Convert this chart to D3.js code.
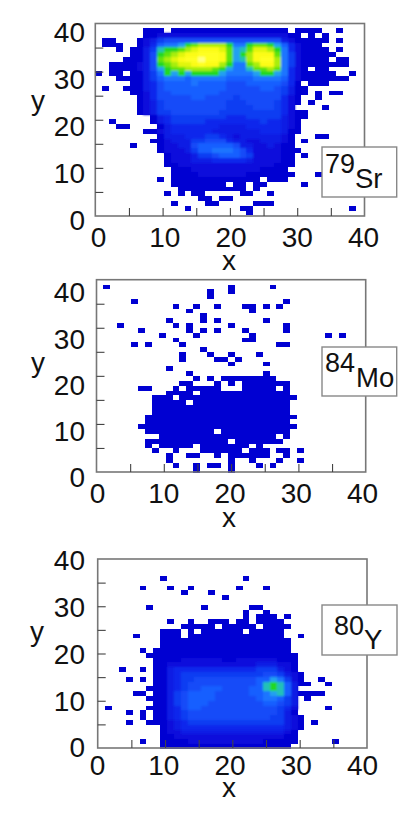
<!DOCTYPE html>
<html>
<head>
<meta charset="utf-8">
<script src="https://cdn.jsdelivr.net/npm/d3@7"></script>
<style>html,body{margin:0;padding:0;background:#fff}svg{display:block}text{font-family:"Liberation Sans",Arial,sans-serif;fill:#111}</style>
</head>
<body>
<div id="chart"></div>
<script>
// Counts per 1x1 bin (top row y=39..40 first). Base-36 colour level; '.' = empty. '|' every 10 columns.
const sr79Bins = [
"",
".......111|.111111111|11111111.1|111..1....",
".......112|2222222222|2222222211|.1.1......",
".11...1235|6666666666|6666666321|1111.1....",
".111..1247|889cdeeeec|88cddc9742|111.......",
"...1.1135a|ccdefgggfd|9adffec842|1111.1....",
".....1136c|defgghhhgd|9cegggd852|11111.....",
"....11136d|efghhihhgd|9aeghhe852|1111.11...",
"..1111236c|deffghggec|88degge852|1111111...",
"..11112369|cddeeeedc9|88added842|1.11......",
"1.11.11358|c9c9cccc98|8889cc9842|11111..1..",
"...1111357|8887888887|7778888742|1111111...",
".....11346|7777877776|6677777641|.111......",
".1..111346|7777777776|6666776531|1.........",
".....11246|6777777766|6666666531|1.1.11....",
"......1246|6666776666|5666666421|..1.......",
"......1235|6666666665|5566665421|.1........",
"......1235|6666666665|555666542.|...1......",
"......1235|5666666655|5555555421|1.........",
"........13|4555555554|4455555321|1.........",
"..1.....13|4555554444|4444544321",
"...11....1|3444444433|3344444321",
".......112|3444444333|3333444311",
".........1|3334445543|233333321.|..11......",
"........11|2333556664|332233321.|1.........",
".....1...1|2233677777|633223211.",
".........1|2223577888|7642222111",
"..........|1222355677|765222211.|1.........",
"..........|1222333444|443222211.",
"..........|1122222222|222222111.",
"..........|.111222222|22221111..",
"..........|.111122222|221111111.|..1.......",
".........1|.111111111|1111.111..",
"..........|.11111111.|11.11.....|1.........",
"..........|..11111111|11.1......",
"..........|1.1.11....|.11..1....",
"..........|.....11.11",
"..........|.1....11..|...111....",
"..........|...1......|.11.......|.......1..",
"..........|..........|..1......."
];
const mo84Bins = [
"",
".1........|.........1|.....1....",
"..........|......1..1",
"..........|......1...",
".....1....|..........|.......1..",
"..........|.1..1..1..|.11.1.1...",
"..........|...1......|..1.......",
"..........|.....1....",
"..........|1....1.1..|....1.....",
"...1......|.1.1.....1|.......1..",
"......1...|...1.1.1..|.1.....1..",
".........1|....1.....|..1.......|...1.1....",
"..........|.1........|.11.......",
".....1.1..|..1.......|......11..",
"..........|.....1....",
"..........|..1...1..1|...1......",
"..........|..1....11.|1.........",
"..........|.........1|....1.....",
"..........|1.........",
"..........|...1......|....1.....",
"..........|....1.1.11|111111....",
"..........|..11...1.1|.1111111..",
"......11..|.1.11111..|.11111.1..",
"..........|1111.11111|11111111..",
"........11|1.11111111|111111111.",
"........11|111.111111|11111111..",
"........11|1111111111|11111111..",
"........11|1111111111|11111111..",
".......111|1111111111|111111111.",
".......111|1111111111|11111111..",
"......1111|1111111111|111111111.",
".......111|1111111.11|11111111..",
".........1|1111111111|111111.1..",
".......111|111111111.|1111111...",
".......1.1|1111.11111|11.1......",
"........1.|.1...11111|1.111.11.1",
"..........|1..11..1.1|11111..1..",
"..........|1........1|..1...1..1",
"..........|.1..1.11.1|...1.1....",
"..........|....1....1"
];
const y80Bins = [
"","","","",
".........1|..........|.1........",
"",
"......1...|1..1......|1...1.....",
"..........|..1...1...",
"..........|........1.",
"",
".......1..|.....1....|..11......",
"..........|..........|.1..1.....",
"..........|..........|.1.111.1..",
"..........|1..1..111.|11.1111...",
"..........|..11111.11|111.1111..",
".........1|11.1.11111|1.11111...",
".....1...1|11.1111111|1111111..1",
".........1|1111111111|11111111..",
".........1|1111111111|11111111..",
"......1.11|1111111111|11111111..",
".......111|1111111111|111111111.",
"........11|1122222211|222222111.",
"........11|2222222222|222333221.",
"...1..1.11|3444444444|444555321.",
"........11|3455555555|5555665321",
"....1.1.11|3455666666|6667798521|..1.......",
"........11|3456666666|6667aca731|1..1......",
".......111|3456677766|6677aca73.",
".....11.11|3567777666|667789a731|111.......",
".......111|3567777666|666788753.|1.........",
"........11|3567776666|666677653.",
".1.....111|3467766666|666666542.|...1......",
"....1.1.11|3456666666|666666531.",
"......1.11|3456666666|6666655321",
"....1..111|2345555555|5555555321|.1........",
".........1|2344444444|4444444321",
".........1|2233333333|333333321.",
".........1|1222222222|222222211.",
"......1..1|1112222222|222211111.|....1.....",
".........1|1111111111|11111111.."
];
const colourLevels = [1,2,3,4,5,6,7,8,9,10,11,12,13,14,15,16,17,18];
const colourStops = ["#0606d2","#0810dc","#0a1ae4","#0a28ec","#0e3cf2","#124cf8","#185eff","#1c74ff","#20a0f0","#20c0b8","#20d070","#20d820","#60e410","#a8ee10","#e0f610","#fcfc18","#ffff20","#ffff80"];
const axisTicks = [5,10,15,20,25,30,35];
const axisLabels = [0,10,20,30,40];
const isotopeMass = ["79","84","80"];
const isotopeName = ["Sr","Mo","Y"];

const layout = [
 {bins:sr79Bins,l:95.3,r:364.5,t:23.5,b:216,cx:95.3,cw:6.87,cy:23.3,ch:4.8,
  xlab:[98,363],xlabY:227,ylab:[221,33],xt:[229,270],yt:[38,110],
  box:[322,147,396.7,197],massAt:[325,173],nameAt:[355,188]},
 {bins:mo84Bins,l:96.5,r:365.7,t:279.7,b:472,cx:96.3,cw:6.93,cy:279.7,ch:4.82,
  xlab:[97,362],xlabY:483,ylab:[478,293],xt:[229,527],yt:[38,372],
  box:[322,347,396.7,396],massAt:[325,372],nameAt:[356,387]},
 {bins:y80Bins,l:97.7,r:367,t:559,b:748,cx:98.3,cw:6.87,cy:556.8,ch:4.8,
  xlab:[97,362],xlabY:755,ylab:[748,561],xt:[229,797],yt:[37,641],
  box:[322,605,397,655],massAt:[334,635],nameAt:[364,649]}
];

const svg = d3.select("#chart").append("svg").attr("width",415).attr("height",830);
const defs = svg.append("defs");
function blurFilter(id,sd){
  defs.append("filter").attr("id",id).attr("x","-5%").attr("y","-5%").attr("width","110%").attr("height","110%")
    .append("feGaussianBlur").attr("stdDeviation",sd);
}
blurFilter("soft",0.45);
blurFilter("smooth",0.8);
const colour = d3.scaleLinear().domain(colourLevels).range(colourStops);
const fontSize = 28;

layout.forEach((p,idx)=>{
  const g = svg.append("g");
  const cells = [];
  p.bins.forEach((row,r)=>{
    row.replace(/\|/g,"").split("").forEach((ch,c)=>{
      if(ch!=="."){cells.push({x:c,y:39-r,v:parseInt(ch,36)});}
    });
  });
  const cellX = d3.scaleLinear().domain([0,40]).range([p.cx,p.cx+40*p.cw]);
  const cellY = d3.scaleLinear().domain([0,40]).range([p.cy+40*p.ch,p.cy]);
  const drawCells = (sel,data,fill)=>sel.selectAll("rect").data(data).join("rect")
    .attr("shape-rendering","crispEdges")
    .attr("x",d=>Math.round(cellX(d.x))).attr("y",d=>Math.round(cellY(d.y+1)))
    .attr("width",d=>Math.round(cellX(d.x+1))-Math.round(cellX(d.x)))
    .attr("height",d=>Math.round(cellY(d.y))-Math.round(cellY(d.y+1)))
    .attr("fill",fill);
  // occupied bins (sharp outline), then the intensity field on top, smoothed as in the photographed figure
  drawCells(g.append("g").attr("filter","url(#soft)"),cells,colour(1));
  drawCells(g.append("g").attr("filter","url(#smooth)"),cells.filter(d=>d.v>1),d=>colour(d.v));

  const x = d3.scaleLinear().domain([0,40]).range([p.l,p.r]);
  const y = d3.scaleLinear().domain([0,40]).range([p.b,p.t]);
  // frame
  g.append("rect").attr("x",p.l).attr("y",p.t).attr("width",p.r-p.l).attr("height",p.b-p.t)
    .attr("fill","none").attr("stroke","#777").attr("stroke-width",1.6);
  // ticks
  const tx = g.append("g").attr("transform",`translate(0,${p.b})`)
    .call(d3.axisBottom(x).tickValues(axisTicks).tickSize(-8).tickFormat(""));
  const ty = g.append("g").attr("transform",`translate(${p.l},0)`)
    .call(d3.axisLeft(y).tickValues(axisTicks).tickSize(-8).tickFormat(""));
  [tx,ty].forEach(a=>{a.select(".domain").remove();a.selectAll("line").attr("stroke","#444").attr("stroke-width",1.1);});
  // tick labels
  const lx = d3.scaleLinear().domain([0,40]).range(p.xlab);
  const ly = d3.scaleLinear().domain([0,40]).range(p.ylab);
  const ax = g.append("g").attr("transform",`translate(0,${p.xlabY})`)
    .call(d3.axisBottom(lx).tickValues(axisLabels).tickSize(0).tickPadding(0));
  const ay = g.append("g").attr("transform","translate(85,0)")
    .call(d3.axisLeft(ly).tickValues(axisLabels).tickSize(0).tickPadding(0));
  [ax,ay].forEach(a=>{a.select(".domain").remove();a.selectAll("text").attr("font-size",fontSize).attr("font-family",null).attr("fill","#111");a.attr("font-family",null);});
  // axis titles
  g.append("text").attr("x",p.xt[0]).attr("y",p.xt[1]).attr("text-anchor","middle").attr("font-size",fontSize).text("x");
  g.append("text").attr("x",p.yt[0]).attr("y",p.yt[1]).attr("text-anchor","middle").attr("font-size",fontSize).text("y");
  // isotope box
  g.append("rect").attr("x",p.box[0]).attr("y",p.box[1]).attr("width",p.box[2]-p.box[0]).attr("height",p.box[3]-p.box[1])
    .attr("fill","#fff").attr("stroke","#888").attr("stroke-width",1.4);
  g.append("text").attr("x",p.massAt[0]).attr("y",p.massAt[1]).attr("font-size",27).text(isotopeMass[idx]);
  g.append("text").attr("x",p.nameAt[0]).attr("y",p.nameAt[1]).attr("font-size",27.5).text(isotopeName[idx]);
});
</script>
</body>
</html>
